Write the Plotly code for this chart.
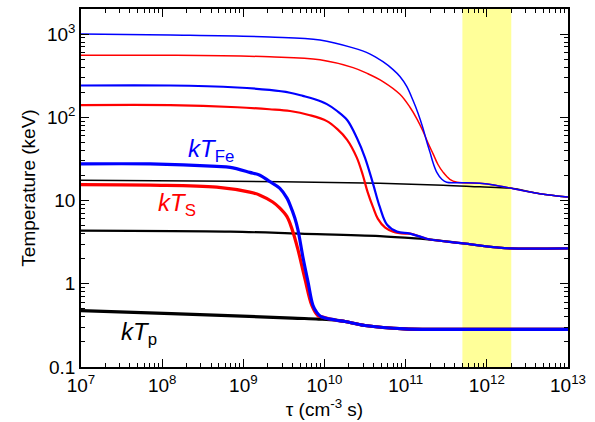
import plotly.graph_objects as go
import math

# ---- data ----
tau_blue_C = [1e7, 7.1e7, 4.7e8, 6.9e8, 1.2e9, 1.6e9, 2.1e9, 2.8e9, 3.45e9, 3.76e9, 4.3e9, 4.7e9,
              5.4e9, 6.27e9, 7.2e9, 8.07e9, 9.06e9, 1.35e10, 1.79e10, 3.15e10, 9.8e10, 1e12, 1e13]
kT_blue_C = [27.5, 27.5, 25.7, 25.0, 21.8, 20.1, 17.0, 14.1, 10.7, 8.85, 6.2, 4.47,
             2.13, 1.05, 0.552, 0.45, 0.403, 0.367, 0.352, 0.315, 0.287, 0.283, 0.283]

tau_red_C = [1e7, 7.1e7, 4.7e8, 1.2e9, 1.6e9, 2.3e9, 2.8e9, 3.45e9, 4.0e9, 4.7e9, 5.75e9,
             7.0e9, 8.3e9, 9.06e9, 1.35e10, 1.79e10, 3.15e10, 9.8e10, 1e12, 1e13]
kT_red_C = [15.5, 15.3, 14.5, 12.6, 11.6, 9.6, 8.15, 6.4, 4.47, 2.59, 1.14,
            0.545, 0.414, 0.403, 0.367, 0.352, 0.315, 0.287, 0.283, 0.283]

tau_black_C = [1e7, 1.3e8, 4e9, 8.5e9, 1.35e10, 1.79e10, 3.15e10, 9.8e10, 1e12, 1e13]
kT_black_C = [0.475, 0.438, 0.387, 0.377, 0.367, 0.352, 0.315, 0.287, 0.283, 0.283]

tau_blue_B = [1e7, 1.25e8, 8.4e8, 2.1e9, 3.76e9, 5.4e9, 7.6e9, 1.07e10, 1.43e10, 1.9e10, 2.5e10,
              3.15e10, 3.95e10, 4.8e10, 5.9e10, 7.8e10, 1.13e11, 1.63e11, 2e11, 5.1e11, 1.33e12,
              1.93e12, 1e13]
kT_blue_B = [241, 241, 228, 213, 197, 181, 165, 144, 119, 92.7, 56.7,
             32.8, 16.1, 8.37, 5.12, 4.23, 4.0, 3.59, 3.40, 3.05, 2.73,
             2.66, 2.66]

tau_red_B = [1e7, 1.25e8, 8.4e8, 2.1e9, 3.76e9, 6.6e9, 1.07e10, 1.43e10, 1.9e10, 2.5e10, 2.97e10,
             3.4e10, 3.95e10, 4.55e10, 5.6e10, 7.0e10, 9.8e10, 1.13e11, 1.63e11, 2e11, 5.1e11,
             1.33e12, 1.93e12, 1e13]
kT_red_B = [140, 140, 132, 125, 119, 106, 90, 72.5, 53.7, 32.8, 20.1,
            12.6, 8.37, 6.03, 4.72, 4.23, 4.0, 4.0, 3.59, 3.40, 3.05,
            2.73, 2.66, 2.66]

tau_black_B = [1e7, 6.9e8, 5e9, 4.8e10, 1.63e11, 2e11, 5.1e11, 1.33e12, 1.93e12, 1e13]
kT_black_B = [4.35, 4.23, 4.0, 3.74, 3.45, 3.40, 3.05, 2.73, 2.66, 2.66]

tau_blue_A = [1e7, 1.25e8, 2.1e9, 8.8e9, 2.25e10, 3.6e10, 5.25e10, 7.0e10, 8.5e10, 1.03e11,
              1.23e11, 1.42e11, 1.63e11, 1.82e11, 2.0e11, 2.17e11, 2.42e11, 2.79e11, 3.2e11,
              4.6e11, 8.2e11, 1.27e12, 1.93e12, 4.5e12, 1e13]
kT_blue_A = [1000, 973, 921, 849, 682, 579, 465, 374, 309, 235,
             160, 112, 74.6, 50.8, 37.6, 28.6, 21.8, 18.0, 16.6,
             16.4, 16.1, 15.3, 14.1, 12.1, 11.0]

tau_red_A = [1e7, 1.25e8, 2.1e9, 8.8e9, 2.25e10, 3.4e10, 5.25e10, 8.5e10, 1.13e11, 1.38e11,
             1.63e11, 1.88e11, 2.17e11, 2.5e11, 2.9e11, 3.5e11, 4.3e11, 8.2e11, 1.27e12,
             1.93e12, 4.5e12, 1e13]
kT_red_A = [556, 556, 533, 491, 395, 335, 269, 189, 132, 95.3,
            68.7, 49.5, 36.6, 27.1, 21.8, 18.0, 16.6, 16.1, 15.3,
            14.1, 12.1, 11.0]

tau_black_A = [1e7, 6.9e8, 4.8e10, 2.9e11, 8.2e11, 1.93e12, 4.5e12, 1e13]
kT_black_A = [17.5, 17.1, 16.1, 15.3, 14.6, 14.1, 12.1, 11.0]

band_tau = [5e11, 2e12]
y_limits = [0.1, 2000]

x_tickvals = [1e7, 1e8, 1e9, 1e10, 1e11, 1e12, 1e13]
x_ticktext = ["10<sup>7</sup>", "10<sup>8</sup>", "10<sup>9</sup>", "10<sup>10</sup>",
              "10<sup>11</sup>", "10<sup>12</sup>", "10<sup>13</sup>"]
y_tickvals = [0.1, 1, 10, 100, 1000]
y_ticktext = ["0.1", "1", "10", "10<sup>2</sup>", "10<sup>3</sup>"]

FONT = "Liberation Sans, Arial, Helvetica, sans-serif"
BLUE = "#0000ff"
RED = "#ff0000"
BLACK = "#000000"

fig = go.Figure()

# yellow band
fig.add_trace(go.Scatter(
    x=[band_tau[0], band_tau[1], band_tau[1], band_tau[0], band_tau[0]],
    y=[y_limits[0], y_limits[0], y_limits[1], y_limits[1], y_limits[0]],
    fill="toself", fillcolor="#ffff99", line=dict(width=0), mode="lines",
    hoverinfo="skip", showlegend=False))

def add(x, y, color, width):
    fig.add_trace(go.Scatter(x=x, y=y, mode="lines",
                             line=dict(color=color, width=width, shape="spline", smoothing=1.0),
                             showlegend=False))

# black first, then red, then blue on top
add(tau_black_A, kT_black_A, BLACK, 1.5)
add(tau_black_B, kT_black_B, BLACK, 2.2)
add(tau_black_C, kT_black_C, BLACK, 3.2)
add(tau_red_A, kT_red_A, RED, 1.5)
add(tau_red_B, kT_red_B, RED, 2.2)
add(tau_red_C, kT_red_C, RED, 3.2)
add(tau_blue_A, kT_blue_A, BLUE, 1.5)
add(tau_blue_B, kT_blue_B, BLUE, 2.2)
add(tau_blue_C, kT_blue_C, BLUE, 3.2)

axis_common = dict(
    type="log", showgrid=False, zeroline=False,
    showline=True, linecolor="black", linewidth=1.5, mirror="allticks",
    ticks="inside", ticklen=8, tickwidth=1.2, tickcolor="black",
    minor=dict(ticks="inside", ticklen=4, tickwidth=1, tickcolor="black", dtick="D1", showgrid=False),
    tickfont=dict(family=FONT, size=19, color="black"),
)

fig.update_xaxes(**axis_common, range=[7, 13], tickmode="array",
                 tickvals=x_tickvals, ticktext=x_ticktext,
                 title=dict(text="τ (cm<sup>-3</sup> s)", font=dict(family=FONT, size=19, color="black"),
                            standoff=6))
fig.update_yaxes(**axis_common, range=[math.log10(y_limits[0]), math.log10(y_limits[1])],
                 tickmode="array", tickvals=y_tickvals, ticktext=y_ticktext,
                 title=dict(text="Temperature (keV)", font=dict(family=FONT, size=19, color="black"),
                            standoff=6))

fig.add_annotation(xref="paper", yref="paper", x=0.216, y=0.605, xanchor="left", yanchor="middle",
                   text="<i>kT</i><sub>Fe</sub>", showarrow=False,
                   font=dict(family=FONT, size=24, color=BLUE))
fig.add_annotation(xref="paper", yref="paper", x=0.155, y=0.455, xanchor="left", yanchor="middle",
                   text="<i>kT</i><sub>S</sub>", showarrow=False,
                   font=dict(family=FONT, size=24, color=RED))
fig.add_annotation(xref="paper", yref="paper", x=0.078, y=0.093, xanchor="left", yanchor="middle",
                   text="<i>kT</i><sub>p</sub>", showarrow=False,
                   font=dict(family=FONT, size=24, color=BLACK))

fig.update_layout(
    width=595, height=422,
    margin=dict(l=81, r=27, t=7, b=53),
    plot_bgcolor="white", paper_bgcolor="white",
    font=dict(family=FONT, color="black"),
)

fig.write_html("out.html", config={"displayModeBar": False},
               post_script="document.body.style.margin='0';")
